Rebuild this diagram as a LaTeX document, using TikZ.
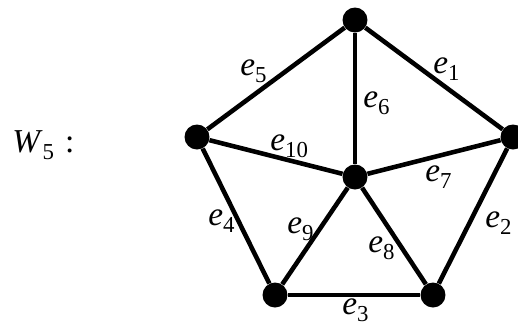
\documentclass[tikz,border=0pt]{standalone}
\usepackage{fontspec}
\setmainfont{Liberation Serif}
\newcommand{\elab}[2]{\textit{#1}\raisebox{-0.5ex}{\fontsize{13}{13}\selectfont #2}}
\begin{document}
\begin{tikzpicture}[x=0.02cm,y=-0.02cm,
  vert/.style={circle, fill=black, inner sep=0pt, minimum size=0.5cm},
  edge/.style={line width=2.6pt},
  lab/.style={anchor=base west, inner sep=0pt, font=\fontsize{19}{20}\selectfont}]
\useasboundingbox (0,0) rectangle (518,326);
\node[vert] (v1) at (355,20) {};
\node[vert] (v2) at (513,137) {};
\node[vert] (v3) at (433,295) {};
\node[vert] (v4) at (275,295) {};
\node[vert] (v5) at (197,137) {};
\node[vert] (c) at (355,177) {};
\draw[edge] (v1) -- (v2);
\draw[edge] (v2) -- (v3);
\draw[edge] (v3) -- (v4);
\draw[edge] (v4) -- (v5);
\draw[edge] (v5) -- (v1);
\draw[edge] (v1) -- (c);
\draw[edge] (v2) -- (c);
\draw[edge] (v3) -- (c);
\draw[edge] (v4) -- (c);
\draw[edge] (v5) -- (c);
\node[lab] (w) at (12,152) {\textit{W}\raisebox{-0.5ex}{\fontsize{13}{13}\selectfont 5}\hspace{0.22cm}:};
\node[lab] (l1) at (433,73) {\elab{e}{1}};
\node[lab] (l2) at (485,227) {\elab{e}{2}};
\node[lab] (l3) at (342,314) {\elab{e}{3}};
\node[lab] (l4) at (208,225) {\elab{e}{4}};
\node[lab] (l5) at (240,75) {\elab{e}{5}};
\node[lab] (l6) at (363,107) {\elab{e}{6}};
\node[lab] (l7) at (425,181) {\elab{e}{7}};
\node[lab] (l8) at (368,252) {\elab{e}{8}};
\node[lab] (l9) at (287,233) {\elab{e}{9}};
\node[lab] (l10) at (270,150) {\elab{e}{10}};
\end{tikzpicture}
\end{document}
